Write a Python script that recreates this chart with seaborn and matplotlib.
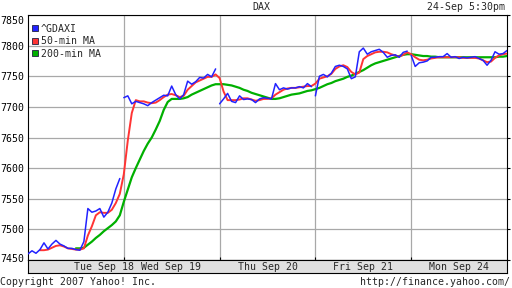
import numpy as np
import pandas as pd
import matplotlib
matplotlib.use("Agg")
import matplotlib.pyplot as plt
import seaborn as sns
from matplotlib.lines import Line2D
from matplotlib.transforms import offset_copy

# ---------------- data ----------------
title = "DAX"
timestamp = "24-Sep 5:30pm"
copyright_text = "Copyright 2007 Yahoo! Inc."
url_text = "http://finance.yahoo.com/"
series_names = ["^GDAXI", "50-min MA", "200-min MA"]
day_labels = ["Tue Sep 18", "Wed Sep 19", "Thu Sep 20", "Fri Sep 21", "Mon Sep 24"]
y_ticks = [7450, 7500, 7550, 7600, 7650, 7700, 7750, 7800, 7850]
samples_per_day = 24

dax_tue = [7460, 7465, 7461, 7467, 7478, 7468, 7476, 7482, 7476, 7473, 7469, 7469,
           7467, 7466, 7480, 7534, 7528, 7530, 7534, 7520, 7528, 7543, 7566, 7583]
dax_wed = [7715, 7718, 7705, 7709, 7707, 7705, 7702, 7707, 7711, 7715, 7719, 7718,
           7734, 7720, 7713, 7720, 7742, 7737, 7741, 7748, 7747, 7753, 7749, 7762]
dax_thu = [7705, 7713, 7722, 7709, 7707, 7718, 7712, 7713, 7712, 7707, 7713, 7715,
           7714, 7713, 7738, 7728, 7731, 7729, 7731, 7731, 7733, 7731, 7738, 7733]
dax_fri = [7718, 7750, 7753, 7749, 7755, 7766, 7768, 7766, 7762, 7746, 7749, 7790,
           7796, 7786, 7790, 7792, 7794, 7789, 7781, 7784, 7785, 7781, 7789, 7791]
dax_mon = [7784, 7766, 7772, 7773, 7775, 7781, 7781, 7782, 7782, 7787, 7781, 7782,
           7779, 7781, 7780, 7781, 7782, 7779, 7776, 7768, 7776, 7790, 7786, 7787, 7792]

ma50_start = 3
ma50 = [7466, 7466, 7467, 7470, 7473, 7474, 7472, 7469, 7468, 7467, 7467, 7469,
        7490, 7505, 7523, 7528, 7527, 7527, 7532, 7543, 7558,
        7590, 7645, 7690, 7711, 7709, 7709, 7707, 7706, 7707, 7711, 7716, 7720,
        7721, 7719, 7716, 7718, 7728, 7734, 7740, 7743, 7746, 7749, 7749, 7753,
        7747, 7725, 7711, 7711, 7711, 7712, 7714, 7714, 7712, 7710, 7711, 7713,
        7713, 7714, 7720, 7724, 7728, 7730, 7731, 7731, 7732, 7733, 7734, 7734,
        7738, 7746, 7748, 7750, 7754, 7762, 7766, 7768, 7765, 7757, 7753, 7756,
        7778, 7783, 7786, 7789, 7790, 7790, 7789, 7786, 7784, 7782, 7785, 7789,
        7786, 7781, 7777, 7776, 7777, 7779, 7780, 7781, 7781, 7781, 7781, 7781,
        7781, 7780, 7780, 7780, 7780, 7779, 7776, 7773, 7774, 7780, 7784, 7786, 7787]

ma200_start = 12
ma200 = [7469, 7469, 7470, 7475, 7480, 7486, 7491, 7497, 7502, 7507, 7513, 7523,
         7545, 7565, 7585, 7600, 7614, 7628, 7640, 7650, 7663, 7677, 7695, 7708,
         7713, 7713, 7713, 7714, 7716, 7720, 7723, 7726, 7729, 7732, 7735, 7737,
         7737, 7737, 7736, 7735, 7733, 7731, 7728, 7726, 7723, 7721, 7719, 7717,
         7715, 7713, 7713, 7714, 7716, 7718, 7720, 7721, 7722, 7724, 7726, 7727,
         7729, 7731, 7734, 7737, 7739, 7742, 7744, 7746, 7749, 7751, 7754, 7757,
         7760, 7764, 7768, 7771, 7773, 7775, 7777, 7779, 7781, 7783, 7785, 7786,
         7786, 7785, 7784, 7783, 7783, 7782, 7782, 7781, 7781, 7781, 7781, 7781,
         7781, 7781, 7781, 7781, 7781, 7781, 7781, 7781, 7781, 7781, 7782, 7782, 7783]

# ---------------- style ----------------
sns.set_style("white")
plt.rcParams["font.family"] = ["DejaVu Sans Mono"]
FS = 7.1
C_BLUE = "#2222ff"
C_RED = "#ff3434"
C_GREEN = "#00b000"
GRID = "#a8a8a8"

W, H = 512, 288
fig = plt.figure(figsize=(W / 100, H / 100), dpi=100, facecolor="white")
L, R, T, B = 28, 507, 15, 260
ax = fig.add_axes([L / W, (H - B) / H, (R - L) / W, (B - T) / H])
ax.set_facecolor("white")

# GDAXI per day (gap over night)
dax_days = [dax_tue, dax_wed, dax_thu, dax_fri, dax_mon]
for k, vals in enumerate(dax_days):
    d = pd.DataFrame({"x": (k * samples_per_day + np.arange(len(vals))) / samples_per_day,
                      "v": vals})
    sns.lineplot(data=d, x="x", y="v", color=C_BLUE, lw=1.1, ax=ax,
                 estimator=None, zorder=5)

d50 = pd.DataFrame({"x": (ma50_start + np.arange(len(ma50))) / samples_per_day, "v": ma50})
sns.lineplot(data=d50, x="x", y="v", color=C_RED, lw=1.4, ax=ax, estimator=None, zorder=4)
d200 = pd.DataFrame({"x": (ma200_start + np.arange(len(ma200))) / samples_per_day, "v": ma200})
sns.lineplot(data=d200, x="x", y="v", color=C_GREEN, lw=1.6, ax=ax, estimator=None, zorder=3)

ax.set_xlim(0, 5)
ax.set_ylim(7450, 7850)
ax.set_xlabel("")
ax.set_ylabel("")
ax.set_yticks(y_ticks)
ax.set_yticklabels([str(t) for t in y_ticks], fontsize=FS)
ax.set_xticks([1, 2, 3, 4])
ax.set_xticklabels([])
ax.grid(True, color=GRID, lw=0.9)
ax.set_axisbelow(True)
ax.tick_params(axis="y", left=False, right=True, direction="out", length=2.2,
               width=0.8, pad=0.6, labelleft=True, labelright=False, colors="black")
ax.tick_params(axis="x", bottom=True, direction="in", length=2.2, width=0.8, colors="black")
for s in ["left", "right", "top", "bottom"]:
    ax.spines[s].set_visible(True)
    ax.spines[s].set_color("black")
    ax.spines[s].set_linewidth(0.8)

# nudge top/bottom y labels inward like the original
ticks = ax.yaxis.get_major_ticks()
ticks[-1].label1.set_transform(offset_copy(ticks[-1].label1.get_transform(), fig=fig, y=-5, units="dots"))
ticks[0].label1.set_transform(offset_copy(ticks[0].label1.get_transform(), fig=fig, y=2, units="dots"))

# legend
handles = [Line2D([], [], marker="s", linestyle="none", markersize=4.2,
                  markerfacecolor=c, markeredgecolor="#202040", markeredgewidth=0.6)
           for c in (C_BLUE, C_RED, C_GREEN)]
ax.legend(handles, series_names, loc="upper left", frameon=False, fontsize=FS,
          bbox_to_anchor=(-0.002, 1 - 4.5 / (B - T)),
          handlelength=0.7, handletextpad=0.25, labelspacing=0.25,
          borderaxespad=0.15, borderpad=0.3)

# date band
band_bottom = 273
bax = fig.add_axes([L / W, (H - band_bottom) / H, (R - L) / W, (band_bottom - B) / H])
bax.set_facecolor("#e0e0e0")
bax.set_xlim(0, 5)
bax.set_ylim(0, 1)
bax.set_xticks([])
bax.set_yticks([])
for s in bax.spines.values():
    s.set_color("black")
    s.set_linewidth(0.8)
label_pos = [0.79, 1.49, 2.5, 3.5, 4.5]
for p, lab in zip(label_pos, day_labels):
    bax.text(p, 0.45, lab, ha="center", va="center", fontsize=FS)

# header / footer
fig.text(261 / W, 1 - 7 / H, title, ha="center", va="center", fontsize=FS)
fig.text(505 / W, 1 - 7 / H, timestamp, ha="right", va="center", fontsize=FS)
fig.text(0 / W, 1 - 282 / H, copyright_text, ha="left", va="center", fontsize=FS)
fig.text(510 / W, 1 - 282 / H, url_text, ha="right", va="center", fontsize=FS)

fig.savefig("out.png", dpi=100, facecolor="white")
